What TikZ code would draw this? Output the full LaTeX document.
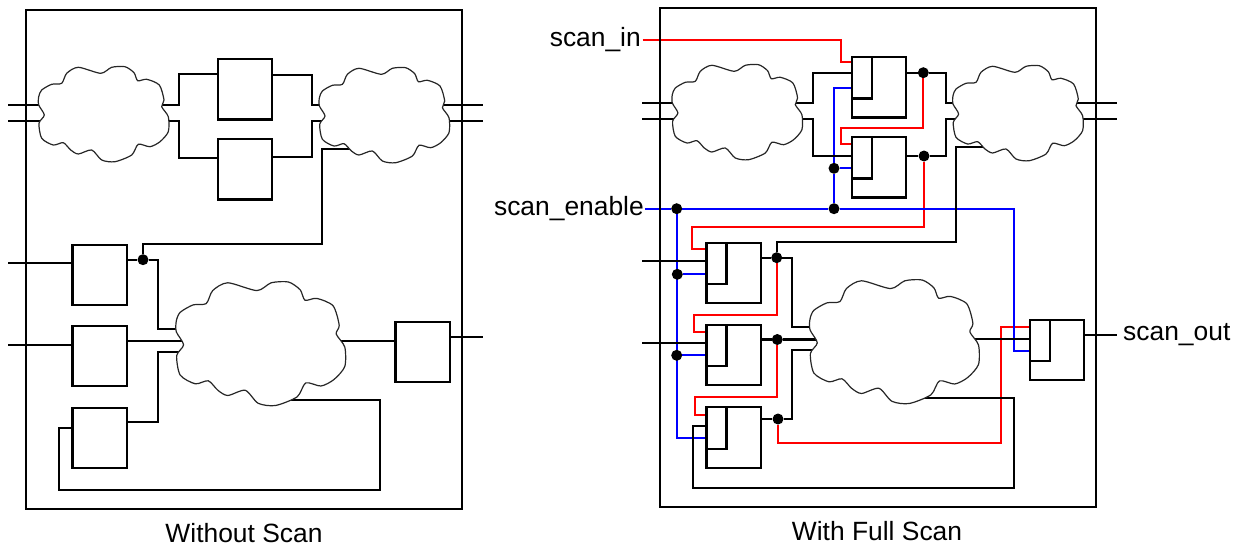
\documentclass[tikz,border=0pt]{standalone}
\usepackage{fontspec}
\setmainfont{Liberation Sans}
\usepackage{xcolor}
\usetikzlibrary{positioning,calc,backgrounds}
\definecolor{scanred}{HTML}{FF0000}
\definecolor{scanblue}{HTML}{0000FF}

\tikzset{
    pics/logiccloud/.style={code={
        \coordinate (-c) at (65,47);
        \draw[cloudline] plot[smooth cycle, tension=0.45] coordinates {
            (0,30) (3,23.3) (13,17.6) (23,16.6) (28,6.6) (39.6,0.6) (62,6.6)
            (73,0.6) (86.3,0) (95.3,6) (99,14) (108,12.6) (120.6,18.3)
            (125.3,33.3) (123,40) (129.6,50) (129.6,65) (121.3,75) (111.3,80)
            (99.6,77.6) (93,88.3) (76.3,95) (63,93.3) (53,83.3) (39.6,87.3)
            (32,83.3) (24.6,76) (14.6,78.3) (3,71.6) (0.3,56.6) (5.6,48.3)
            (0,38.3)};
    }},
}

\begin{document}
\begin{tikzpicture}[
    x=1pt, y=-1pt,
    frame/.style={draw, line width=2.4pt, minimum width=436pt, minimum height=499pt, outer sep=0pt},
    ffbox/.style={draw, fill=white, line width=2.3pt, minimum width=54.5pt,
                  minimum height=60.5pt, inner sep=0pt, outer sep=0pt},
    muxbox/.style={draw, line width=2.3pt, minimum width=20pt, minimum height=41.5pt,
                   inner sep=0pt, outer sep=0pt, anchor=north west},
    cloudline/.style={draw=black!85, fill=white, line width=1.2pt},
    wire/.style={line width=2.2pt},
    redw/.style={wire, scanred},
    bluew/.style={wire, scanblue},
    dot/.style={circle, fill=black, inner sep=0pt, minimum size=11pt},
    lbl/.style={font=\fontsize{26.4}{30}\selectfont, inner sep=0pt},
]
\useasboundingbox (0,0) rectangle (1242,546);

% without scan
\node[frame] (fra) at (244,259.5) {};
\node[ffbox] (ffa) at (245,89.3) {};
\node[ffbox, below=19.5pt of ffa] (ffb) {};
\node[ffbox] (ffc) at (99.8,275) {};
\node[ffbox, below=20.5pt of ffc] (ffd) {};
\node[ffbox, below=21.5pt of ffd] (ffe) {};
\node[ffbox] (fff) at (422.8,352) {};
\node[dot] (dqa) at (143,259.7) {};
\node[lbl] (capa) at (244,533) {Without Scan};
\coordinate (clcs) at (285,400);

\pic (cla) at (38.7,66.7) {logiccloud};
\pic (clb) at (319.4,67.7) {logiccloud};
\pic[scale=1.3] (clc) at (176.3,282) {logiccloud};

\begin{scope}[on background layer]
\draw[wire] (8,105) -- (cla-c |- 0,105);
\draw[wire] (8,120.7) -- (cla-c |- 0,120.7);
\draw[wire] (cla-c |- 0,105) -| (179,74) -- (ffa.west |- 0,74);
\draw[wire] (cla-c |- 0,120.7) -| (179,157.7) -- (ffb.west |- 0,157.7);
\draw[wire] (ffa.east |- 0,75) -| (312,105) -- (clb-c |- 0,105);
\draw[wire] (ffb.east |- 0,156.7) -| (312,120.7) -- (clb-c |- 0,120.7);
\draw[wire] (clb-c |- 0,105) -- (483,105);
\draw[wire] (clb-c |- 0,120.7) -- (483,120.7);
\draw[wire] (8,263) -- (ffc.west |- 0,263);
\draw[wire] (ffc.east |- dqa) -- (dqa) -| (158,329) -- (clc-c |- 0,329);
\draw[wire] (dqa) |- (322,243.7) |- (clb-c |- 0,148.7);
\draw[wire] (8,345) -- (ffd.west |- 0,345);
\draw[wire] (ffd.east |- 0,340.7) -- (clc-c |- 0,340.7);
\draw[wire] (ffe.east |- 0,421.7) -| (158,351.7) -- (clc-c |- 0,351.7);
\draw[wire] (clc-c |- 0,340.7) -- (fff.west |- 0,340.7);
\draw[wire] (fff.east |- 0,337) -- (483,337);
\draw[wire] (ffe.west |- 0,427.7) -| (59,490) -| (380,400) -- (clcs);
\end{scope}

% with full scan
\node[frame] (frb) at (878,257.5) {};
\node[ffbox] (ssa) at (879,87.2) {};
\node[ffbox, below=19.5pt of ssa] (ssb) {};
\node[ffbox] (ssc) at (733.7,273) {};
\node[ffbox, below=21.5pt of ssc] (ssd) {};
\node[ffbox, below=22pt of ssd] (sse) {};
\node[ffbox] (ssf) at (1057,350) {};
\node[muxbox] (mxa) at (ssa.north west) {};
\node[muxbox] (mxb) at (ssb.north west) {};
\node[muxbox] (mxc) at (ssc.north west) {};
\node[muxbox] (mxd) at (ssd.north west) {};
\node[muxbox] (mxe) at (sse.north west) {};
\node[muxbox] (mxf) at (ssf.north west) {};

\node[dot] (dsa) at (923.3,72.7) {};
\node[dot] (dsb) at (924,156) {};
\node[dot] (dsc) at (776.7,257.7) {};
\node[dot] (dsd) at (777.3,339.5) {};
\node[dot] (dse) at (778,419) {};
\node[dot] (dea) at (676.7,208.7) {};
\node[dot] (deb) at (834,208.7) {};
\node[dot] (dec) at (834,168.3) {};
\node[dot] (ded) at (677.3,274.3) {};
\node[dot] (dee) at (676.7,355.3) {};

\node[lbl, anchor=east] (scin) at (641,40) {scan\_in};
\node[lbl, anchor=east] (scen) at (644,208.7) {scan\_enable};
\node[lbl, anchor=west] (scout) at (1123,334.7) {scan\_out};
\node[lbl] (capb) at (877,531) {With Full Scan};
\coordinate (clfs) at (918,397.7);
\coordinate (scoe) at (1117,334.7);

\pic (cld) at (672.3,64.7) {logiccloud};
\pic (cle) at (953,65.7) {logiccloud};
\pic[scale=1.3] (clf) at (810,280) {logiccloud};

\begin{scope}[on background layer]
% scan chain
\draw[redw] (642.5,40) -| (841,62) -- (ssa.west |- 0,62);
\draw[redw] (dsa) |- (841,127.7) |- (ssb.west |- 0,143.7);
\draw[redw] (dsb) |- (692,226.7) |- (ssc.west |- 0,249.3);
\draw[redw] (dsc) |- (694,315) |- (ssd.west |- 0,332);
\draw[redw] (dsd) |- (695,396.7) |- (sse.west |- 0,415);
\draw[redw] (dse) |- (1001,442.7) |- (ssf.west |- 0,327);
% enable
\draw[bluew] (645,208.7) -- (dea) -- (deb) -| (1014,350.7) -- (ssf.west |- 0,350.7);
\draw[bluew] (deb) -- (dec) |- (ssa.west |- 0,87.7);
\draw[bluew] (dec) -- (ssb.west |- dec);
\draw[bluew] (dea) |- (sse.west |- 0,438);
\draw[bluew] (ded) -- (ssc.west |- ded);
\draw[bluew] (dee) -- (ssd.west |- dee);
% data
\draw[wire] (642,102.7) -- (cld-c |- 0,102.7);
\draw[wire] (642,119) -- (cld-c |- 0,119);
\draw[wire] (cld-c |- 0,102.7) -| (812.7,72.7) -- (ssa.west |- 0,72.7);
\draw[wire] (cld-c |- 0,119) -| (812.7,156) -- (ssb.west |- 0,156);
\draw[wire] (ssa.east |- dsa) -- (dsa) -| (946,103) -- (cle-c |- 0,103);
\draw[wire] (ssb.east |- dsb) -- (dsb) -| (946,119) -- (cle-c |- 0,119);
\draw[wire] (cle-c |- 0,103) -- (1117,103);
\draw[wire] (cle-c |- 0,119) -- (1117,119);
\draw[wire] (642,261) -- (ssc.west |- 0,261);
\draw[wire] (ssc.east |- dsc) -- (dsc) -| (792,327) -- (clf-c |- 0,327);
\draw[wire] (dsc) |- (956,242) |- (cle-c |- 0,146.7);
\draw[wire] (642,343) -- (ssd.west |- 0,343);
\draw[wire] (ssd.east |- dsd) -- (dsd) -- (clf-c |- dsd);
\draw[wire] (sse.east |- dse) -- (dse) -| (792,350) -- (clf-c |- 0,350);
\draw[wire] (sse.west |- 0,425.7) -| (692.7,487.7) -| (1014,397.7) -- (clfs);
\draw[wire] (clf-c |- 0,339) -- (ssf.west |- 0,339);
\draw[wire] (ssf.east |- scoe) -- (scoe);
\end{scope}
\end{tikzpicture}
\end{document}
